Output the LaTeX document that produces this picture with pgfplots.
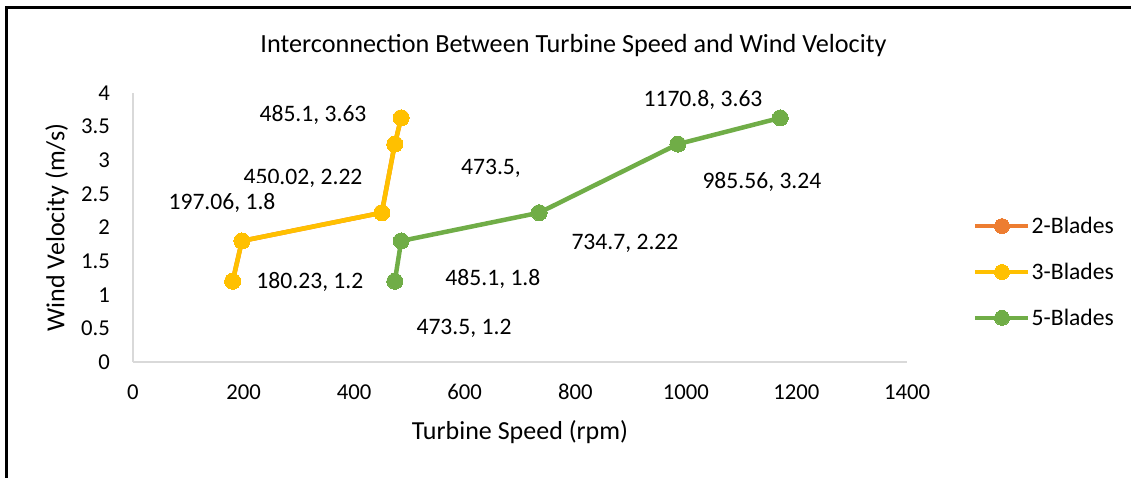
\documentclass[border=0pt]{standalone}
\usepackage{fontspec}
\setmainfont{Carlito}
\usepackage{pgfplots}
\pgfplotsset{compat=1.18}
\definecolor{c2}{HTML}{ED7D31}
\definecolor{c3}{HTML}{FFC000}
\definecolor{c5}{HTML}{70AD47}
\definecolor{axgray}{HTML}{D9D9D9}
\pgfplotstableread{
x y
180.23 1.2
197.06 1.8
450.02 2.22
473.5 3.24
485.1 3.63
}\twoblades
\pgfplotstableread{
x y
180.23 1.2
197.06 1.8
450.02 2.22
473.5 3.24
485.1 3.63
}\threeblades
\pgfplotstableread{
x y
473.5 1.2
485.1 1.8
734.7 2.22
985.56 3.24
1170.8 3.63
}\fiveblades
\begin{document}
\begin{tikzpicture}[x=1pt,y=1pt]
\path[use as bounding box] (0,0) rectangle (1131,477);
\draw[line width=2.5pt] (6.5,-10) -- (6.5,469.5) -- (1140,469.5);
\node[font=\fontsize{26.2}{31}\selectfont] at (573.5,431) {Interconnection Between Turbine Speed and Wind Velocity};
\begin{axis}[at={(133pt,115pt)}, anchor=south west, scale only axis,
  width=774pt, height=269pt,
  xmin=0, xmax=1400, ymin=0, ymax=4,
  xtick={0,200,...,1400}, ytick={0,0.5,...,4},
  axis x line*=bottom, axis y line*=left,
  axis line style={axgray, line width=1.5pt, -},
  major tick length=0pt,
  /pgf/number format/assume math mode=true,
  /pgf/number format/1000 sep={},
  tick label style={font=\fontsize{22.7}{27}\selectfont, inner sep=0pt},
  xticklabel style={anchor=center, yshift=-30pt},
  yticklabel style={anchor=east, xshift=-23pt},
  xlabel={Turbine Speed (rpm)}, ylabel={Wind Velocity (m/s)},
  every axis x label/.style={at={(axis description cs:0.5,0)}, anchor=center, yshift=-70pt, font=\fontsize{26}{31}\selectfont},
  every axis y label/.style={at={(axis description cs:0,0.5)}, anchor=center, xshift=-76pt, rotate=90, font=\fontsize{26}{31}\selectfont},
  legend style={at={(axis description cs:1.0853,0.3346)}, anchor=west, draw=none, fill=none,
    inner sep=0pt, font=\fontsize{23.6}{28}\selectfont, row sep=26pt,
    nodes={inner sep=1pt}},
  legend cell align=left,
  legend image code/.code={\draw[#1, mark repeat=2, mark phase=2, mark size=7.5pt] plot coordinates {(0pt,0pt) (26.5pt,0pt) (53pt,0pt)};},
  clip=false,
]
\addplot[c2, line width=4.5pt, mark=*, mark size=8pt, mark options={fill=c2, draw=c2, line width=0pt}] table {\twoblades};
\addlegendentry{2-Blades}
\addplot[c3, line width=4.5pt, mark=*, mark size=8pt, mark options={fill=c3, draw=c3, line width=0pt}] table {\threeblades};
\addlegendentry{3-Blades}
\addplot[c5, line width=4.5pt, mark=*, mark size=8pt, mark options={fill=c5, draw=c5, line width=0pt}] table {\fiveblades};
\addlegendentry{5-Blades}
\begin{scope}[every node/.style={font=\fontsize{23.6}{28}\selectfont, inner sep=0pt}]
\node at (axis cs:325.6,3.673) {485.1, 3.63};
\node at (axis cs:307.5,2.736) {450.02, 2.22};
\node[fill=white, inner xsep=3pt, inner ysep=10pt] at (axis cs:161,2.364) {197.06, 1.8};
\node at (axis cs:320,1.19) {180.23, 1.2};
\node at (axis cs:647.5,2.885) {473.5,};
\node at (axis cs:651,1.235) {485.1, 1.8};
\node at (axis cs:598.7,0.506) {473.5, 1.2};
\node at (axis cs:889.8,1.77) {734.7, 2.22};
\node at (axis cs:1137.6,2.677) {985.56, 3.24};
\node at (axis cs:1031,3.896) {1170.8, 3.63};
\end{scope}
\end{axis}
\end{tikzpicture}
\end{document}
